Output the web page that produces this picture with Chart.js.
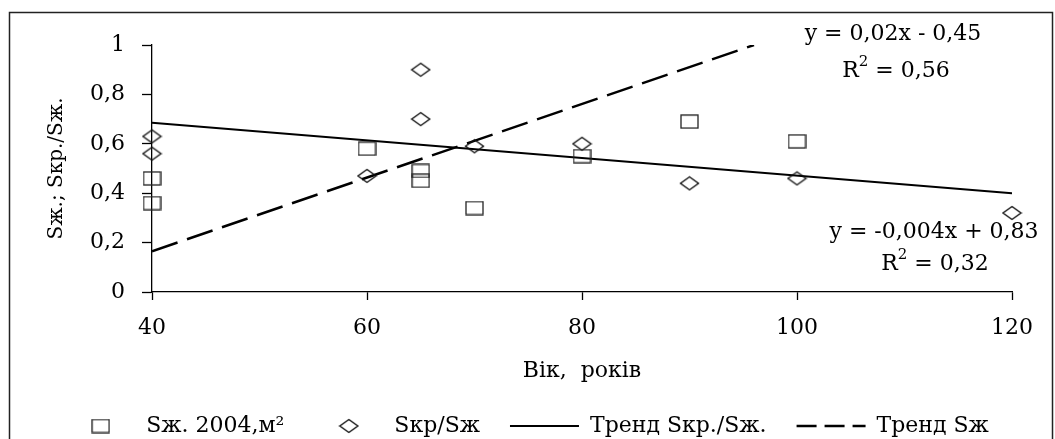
<!DOCTYPE html>
<html>
<head>
<meta charset="utf-8">
<script src="https://cdn.jsdelivr.net/npm/chart.js@4.4.1/dist/chart.umd.min.js"></script>
<style>
html,body{margin:0;padding:0;background:#fff;}
#wrap{width:1055px;height:439px;position:relative;}
</style>
</head>
<body>
<div id="wrap"><canvas id="c" width="1055" height="439"></canvas></div>
<script>
// ---- data ----
const sqX = [40, 40, 60, 65, 65, 70, 80, 90, 100];
const sqY = [0.46, 0.36, 0.58, 0.49, 0.45, 0.34, 0.55, 0.69, 0.61];
const diaX = [40, 40, 60, 65, 65, 70, 80, 90, 100, 120];
const diaY = [0.63, 0.56, 0.47, 0.90, 0.70, 0.59, 0.60, 0.44, 0.46, 0.32];
const trendKrX = [40, 120];
const trendKrY = [0.685, 0.40];
const trendZhX = [40, 96];
const trendZhY = [0.165, 1.0];
const seriesNames = ['Sж. 2004,м²', 'Sкр/Sж', 'Тренд Sкр./Sж.', 'Тренд Sж'];
const xTickLabels = ['40', '60', '80', '100', '120'];
const yTickLabels = ['0', '0,2', '0,4', '0,6', '0,8', '1'];
const xTitle = 'Вік,  років';
const yTitle = 'Sж.; Sкр./Sж.';
const eqZh = ['y = 0,02x - 0,45', 'R', '2', ' = 0,56'];
const eqKr = ['y = -0,004x + 0,83', 'R', '2', ' = 0,32'];

function pts(xs, ys) { return xs.map((x, i) => ({x: x, y: ys[i]})); }

function makeSquare() {
  const c = document.createElement('canvas');
  c.width = 19; c.height = 15;
  const g = c.getContext('2d');
  g.strokeStyle = '#222'; g.lineWidth = 1.3;
  g.strokeRect(1, 1, 17, 13);
  return c;
}
function makeDiamond() {
  const c = document.createElement('canvas');
  c.width = 21; c.height = 16;
  const g = c.getContext('2d');
  g.strokeStyle = '#111'; g.lineWidth = 1.4;
  g.beginPath();
  g.moveTo(10.5, 1.5); g.lineTo(19.5, 8); g.lineTo(10.5, 14.5); g.lineTo(1.5, 8); g.closePath();
  g.stroke();
  return c;
}
const sqImg = makeSquare();
const diaImg = makeDiamond();

const FONT = 'DejaVu Serif';
Chart.defaults.font.family = FONT;
Chart.defaults.color = '#000';

const LEG_PAD = 30;
const LAYOUT_BOTTOM = -8;
const PLOT_BOTTOM = 292;
const PLOT_LEFT = 152;

function drawR2(ctx, parts, cx, cy) {
  const big = '22px "' + FONT + '"';
  const small = '15px "' + FONT + '"';
  ctx.font = big;
  const wR = ctx.measureText(parts[1]).width;
  const wRest = ctx.measureText(parts[3]).width;
  ctx.font = small;
  const w2 = ctx.measureText(parts[2]).width;
  const total = wR + w2 + wRest;
  let x = cx - total / 2;
  ctx.textAlign = 'left';
  ctx.textBaseline = 'middle';
  ctx.font = big;
  ctx.fillText(parts[1], x, cy);
  x += wR;
  ctx.font = small;
  ctx.fillText(parts[2], x, cy - 9);
  x += w2;
  ctx.font = big;
  ctx.fillText(parts[3], x, cy);
}

const framePlugin = {
  id: 'frame',
  beforeDraw(chart) {
    const ctx = chart.ctx;
    ctx.save();
    ctx.fillStyle = '#fff';
    ctx.fillRect(0, 0, chart.width, chart.height);
    ctx.strokeStyle = '#222';
    ctx.lineWidth = 1.5;
    ctx.strokeRect(9.5, 12.5, 1043, 440);
    ctx.restore();
  },
  afterDatasetsDraw(chart) {
    const ctx = chart.ctx;
    ctx.save();
    ctx.fillStyle = '#000';
    ctx.font = '22px "' + FONT + '"';
    ctx.textAlign = 'center';
    ctx.textBaseline = 'middle';
    ctx.fillText(eqZh[0], 893, 34);
    drawR2(ctx, eqZh, 896, 71);
    ctx.textAlign = 'center';
    ctx.font = '22px "' + FONT + '"';
    ctx.fillText(eqKr[0], 934, 232);
    drawR2(ctx, eqKr, 935, 264);
    ctx.restore();
  }
};

new Chart(document.getElementById('c'), {
  type: 'scatter',
  data: {
    datasets: [
      { label: seriesNames[0], data: pts(sqX, sqY), pointStyle: sqImg, pointRadius: 8, showLine: false, borderColor: '#000', backgroundColor: 'transparent', clip: false },
      { label: seriesNames[1], data: pts(diaX, diaY), pointStyle: diaImg, pointRadius: 8, showLine: false, borderColor: '#000', backgroundColor: 'transparent', clip: false },
      { label: seriesNames[2], data: pts(trendKrX, trendKrY), showLine: true, borderColor: '#000', borderWidth: 2, pointRadius: 0, pointStyle: 'line', pointBorderWidth: 2, pointBorderColor: '#000' },
      { label: seriesNames[3], data: pts(trendZhX, trendZhY), showLine: true, borderColor: '#000', borderWidth: 2.5, borderDash: [27, 10], pointRadius: 0, pointStyle: 'line', pointBorderWidth: 2.5, pointBorderColor: '#000' }
    ]
  },
  options: {
    responsive: false,
    animation: false,
    devicePixelRatio: 1,
    layout: { padding: { left: 0, right: 0, top: 45, bottom: LAYOUT_BOTTOM } },
    plugins: {
      tooltip: { enabled: false },
      legend: {
        position: 'bottom',
        labels: {
          usePointStyle: true,
          pointStyleWidth: 69,
          padding: LEG_PAD,
          color: '#000',
          font: { family: FONT, size: 22 },
          generateLabels(chart) {
            const items = Chart.defaults.plugins.legend.labels.generateLabels(chart);
            items.sort((a, b) => a.datasetIndex - b.datasetIndex);
            items.forEach((it) => {
              it.strokeStyle = '#000';
              it.fillStyle = 'transparent';
              if (it.datasetIndex === 2) { it.lineWidth = 2; it.lineDash = []; }
              if (it.datasetIndex === 3) { it.lineWidth = 2.5; it.lineDash = [20, 8]; }
            });
            return items;
          }
        }
      }
    },
    scales: {
      x: {
        type: 'linear',
        min: 40, max: 120,
        afterFit(s) {
          const lg = s.chart.legend ? s.chart.legend.height : 82;
          s.height = s.chart.height - LAYOUT_BOTTOM - lg - PLOT_BOTTOM;
        },
        border: { color: '#000', width: 1.3 },
        grid: { drawOnChartArea: false, drawTicks: true, tickLength: 8, tickColor: '#000', tickWidth: 1.3 },
        ticks: {
          stepSize: 20, padding: 15, color: '#000',
          font: { family: FONT, size: 22 },
          maxRotation: 0,
          callback(v) { const i = Math.round((v - 40) / 20); return xTickLabels[i]; }
        },
        title: { display: true, text: xTitle, color: '#000', font: { family: FONT, size: 22 }, padding: { top: 0, bottom: 1 } }
      },
      y: {
        type: 'linear',
        min: 0, max: 1,
        afterFit(s) { s.width = PLOT_LEFT; },
        border: { color: '#000', width: 1.3 },
        grid: { drawOnChartArea: false, drawTicks: true, tickLength: 10, tickColor: '#000', tickWidth: 1.3 },
        ticks: {
          stepSize: 0.2, padding: 17, color: '#000',
          font: { family: FONT, size: 22 },
          callback(v) { const i = Math.round(v / 0.2); return yTickLabels[i]; }
        },
        title: { display: true, text: yTitle, color: '#000', font: { family: FONT, size: 20 }, padding: { top: 45, bottom: 0 } }
      },
      r: {
        type: 'linear',
        position: 'right',
        display: true,
        afterFit(s) { s.width = 43; },
        grid: { display: false },
        border: { display: false },
        ticks: { display: false }
      }
    }
  },
  plugins: [framePlugin]
});
</script>
</body>
</html>
